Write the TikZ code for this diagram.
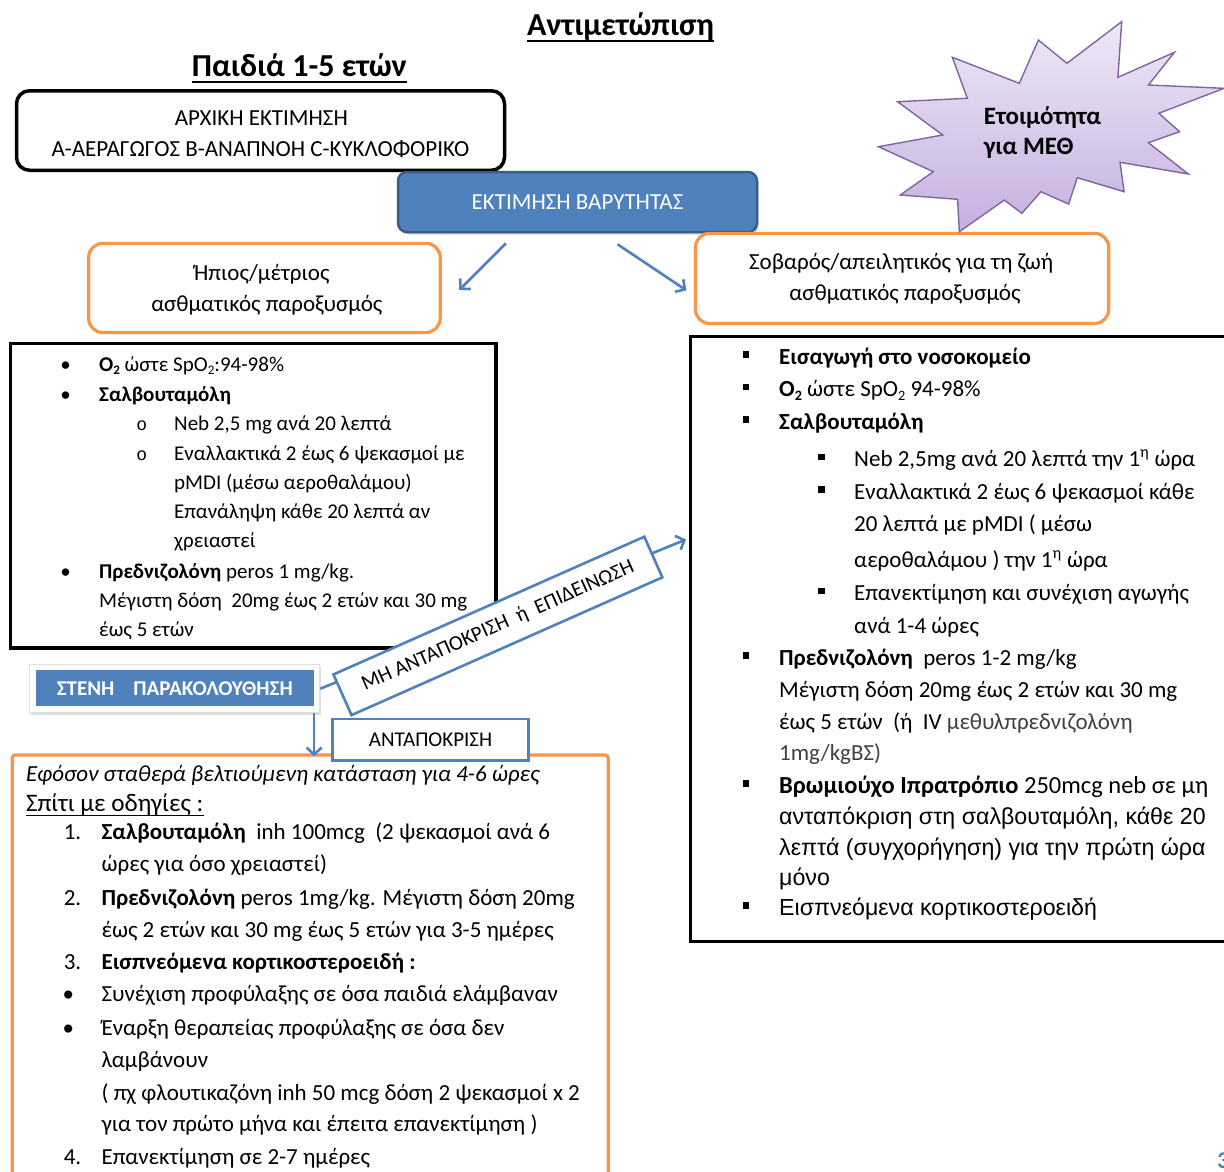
\documentclass[tikz,border=0pt]{standalone}
\usepackage{fontspec}
\usepackage{graphicx}
\setmainfont{Carlito}
\newfontfamily\arialf{Liberation Sans}
\newfontfamily\monof{Liberation Mono}
\usetikzlibrary{arrows.meta,shadows,calc}
\definecolor{obl}{HTML}{4F81BD}
\definecolor{obldk}{HTML}{385D8A}
\definecolor{oor}{HTML}{F79646}
\definecolor{stTop}{HTML}{EEE8F6}
\definecolor{stBot}{HTML}{C5B0E0}
\definecolor{stLine}{HTML}{8064A2}
\definecolor{pgnum}{HTML}{4A84A8}
\newcommand\subtwo{\raisebox{-0.16em}{\scalebox{0.62}{2}}}
\tikzset{
  ttl/.style={anchor=base, inner sep=0pt, font=\bfseries\fontsize{32}{36}\selectfont},
  ctext/.style={anchor=base, inner sep=0pt, font=\fontsize{23}{27}\selectfont},
  lt/.style={anchor=base west, inner sep=0pt, font=\fontsize{21}{25}\selectfont},
  rt/.style={anchor=base west, inner sep=0pt, font=\fontsize{23}{27}\selectfont},
  rbig/.style={anchor=base west, inner sep=0pt, font=\fontsize{24.5}{28}\selectfont},
  ra/.style={anchor=base west, inner sep=0pt, font=\arialf\fontsize{23.2}{27}\selectfont},
  bt/.style={anchor=base west, inner sep=0pt, font=\fontsize{23}{27}\selectfont},
  ldot/.style={anchor=base, inner sep=0pt, font=\fontsize{21}{25}\selectfont},
  lcirc/.style={anchor=base, inner sep=0pt, font=\monof\fontsize{18}{22}\selectfont},
  rsq/.style={anchor=base, inner sep=0pt},
  blackbox/.style={draw=black, line width=3.5pt, inner sep=0pt, anchor=north west},
  orbox/.style={draw=oor, line width=3.2pt, rounded corners=14pt, inner sep=0pt, fill=white},
  arr/.style={draw=obl, line width=2.6pt, -{Straight Barb[length=7pt,width=15pt]}},
}
\newcommand\sq{\raisebox{6.4pt}{\rule{6.5pt}{6.5pt}}}
\begin{document}
\begin{tikzpicture}[x=1pt,y=-1pt]
\useasboundingbox (0,0) rectangle (1224,1171);
\clip (0,0) rectangle (1224,1171);
\fill[white] (0,0) rectangle (1224,1171);

% titles
\node[ttl] (title) at (620.5,35) {Αντιμετώπιση};
\draw[line width=2.3pt] ([yshift=-5.7pt]title.base west) -- ([yshift=-5.7pt]title.base east);
\node[ttl] (subt) at (299.3,76) {Παιδιά 1-5 ετών};
\draw[line width=2.3pt] ([yshift=-5.7pt]subt.base west) -- ([yshift=-5.7pt]subt.base east);

% initial assessment box
\node[draw=black, line width=3.5pt, rounded corners=13pt, fill=white, minimum width=488pt, minimum height=79.5pt, inner sep=0pt] (init) at (260.5,130.5) {};
\node[ctext] (init1) at (261.3,125) {ΑΡΧΙΚΗ ΕΚΤΙΜΗΣΗ};
\node[ctext] (init2) at (260.5,156.7) {Α-ΑΕΡΑΓΩΓΟΣ Β-ΑΝΑΠΝΟΗ C-ΚΥΚΛΟΦΟΡΙΚΟ};

% severity box
\node[draw=obldk, fill=obl, line width=2.5pt, rounded corners=9pt, minimum width=359pt, minimum height=60pt, inner sep=0pt,
      text=white, font=\fontsize{23}{27}\selectfont,
      drop shadow={shadow xshift=1.5pt, shadow yshift=-2.5pt, opacity=0.35}] (sev) at (577.5,202) {ΕΚΤΙΜΗΣΗ ΒΑΡΥΤΗΤΑΣ};

% orange boxes
\node[orbox, minimum width=351.5pt, minimum height=89.1pt] (mild) at (264.4,287.9) {};
\node[ctext] (mild1) at (261.8,280) {Ήπιος/μέτριος};
\node[ctext] (mild2) at (266.8,311.7) {ασθματικός παροξυσμός};
\node[orbox, minimum width=413.2pt, minimum height=90.1pt] (sevr) at (902.1,278.4) {};
\node[ctext] (sevr1) at (901.2,269.3) {Σοβαρός/απειλητικός για τη ζωή};
\node[ctext] (sevr2) at (905,300) {ασθματικός παροξυσμός};

% arrows from severity box
\draw[arr] ([xshift=-71.5pt,yshift=-10pt]sev.south) -- ([xshift=17.5pt,yshift=-2pt]mild.east);
\draw[arr] ([xshift=40pt,yshift=-11pt]sev.south) -- ([xshift=-7.5pt,yshift=-12pt]sevr.west);

% star
\path[draw=stLine, line width=1.4pt, top color=stTop, bottom color=stBot, line join=miter]
 (1121.7,21.7) -- (1117.9,77.3) -- (1174.4,52.3) -- (1148.4,85) -- (1224.1,88.3) -- (1158.8,113.3)
 -- (1179.6,131.7) -- (1148.4,142.7) -- (1188.3,174) -- (1120,162.3) -- (1124.1,191.7) -- (1077.3,177.7)
 -- (1068.6,204) -- (1040.9,191.7) -- (1021.8,213.3) -- (1004.4,200) -- (959.3,231.7) -- (957.6,199.3)
 -- (900.3,195) -- (933.3,171.7) -- (878.5,146.7) -- (942.7,135) -- (897.6,101.7) -- (967.3,98.3)
 -- (952.4,57.3) -- (1019.3,83.3) -- (1038.4,40) -- (1066.9,63.3) -- cycle;
\node[anchor=base west, inner sep=0pt, font=\bfseries\fontsize{25}{29}\selectfont] (star1) at (983.6,124) {Ετοιμότητα};
\node[anchor=base west, inner sep=0pt, font=\bfseries\fontsize{25}{29}\selectfont] (star2) at (983.6,154) {για ΜΕΘ};

% left black box
\node[blackbox, minimum width=485.5pt, minimum height=304.5pt] (lbox) at (8.75,341.75) {};
\node[ldot] (lb1) at (65.7,371) {•};
\node[lt] (l1) at (99,371) {\textbf{O\subtwo} ώστε SpO\subtwo:94-98\%};
\node[ldot] (lb2) at (65.7,401) {•};
\node[lt] (l2) at (99,401) {\textbf{Σαλβουταμόλη}};
\node[lcirc] (lc1) at (141.7,430.7) {o};
\node[lt] (l3) at (174,430.7) {Neb 2,5 mg ανά 20 λεπτά};
\node[lcirc] (lc2) at (141.7,460) {o};
\node[lt] (l4) at (174,460) {Εναλλακτικά 2 έως 6 ψεκασμοί με};
\node[lt] (l5) at (174,489) {pMDI (μέσω αεροθαλάμου)};
\node[lt] (l6) at (174,518) {Επανάληψη κάθε 20 λεπτά αν};
\node[lt] (l7) at (174,547) {χρειαστεί};
\node[ldot] (lb3) at (65.7,578) {•};
\node[lt] (l8) at (99,578) {\textbf{Πρεδνιζολόνη} peros 1 mg/kg.};
\node[lt] (l9) at (99,607.7) {Μέγιστη δόση\ \ 20mg έως 2 ετών και 30 mg};
\node[lt] (l10) at (99,636.7) {έως 5 ετών};

% right black box
\node[blackbox, minimum width=560pt, minimum height=605pt] (rbox) at (688.75,334.75) {};
\node[rsq] (rs1) at (746,364.3) {\sq};
\node[rt] (r1) at (779,364.3) {\textbf{Εισαγωγή στο νοσοκομείο}};
\node[rsq] (rs2) at (746,396.7) {\sq};
\node[rt] (r2) at (779,396.7) {\textbf{O\subtwo} ώστε SpO\subtwo{} 94-98\%};
\node[rsq] (rs3) at (746,429.3) {\sq};
\node[rt] (r3) at (779,429.3) {\textbf{Σαλβουταμόλη}};
\node[rsq] (rs4) at (821.6,466.7) {\sq};
\node[rt] (r4) at (854,466.7) {Neb 2,5mg ανά 20 λεπτά την 1\textsuperscript{η} ώρα};
\node[rsq] (rs5) at (821.6,499) {\sq};
\node[rt] (r5) at (854,499) {Εναλλακτικά 2 έως 6 ψεκασμοί κάθε};
\node[rt] (r6) at (854,531.7) {20 λεπτά με pMDI ( μέσω};
\node[rt] (r7) at (854,567.3) {αεροθαλάμου ) την 1\textsuperscript{η} ώρα};
\node[rsq] (rs6) at (821.6,600.7) {\sq};
\node[rt] (r8) at (854,600.7) {Επανεκτίμηση και συνέχιση αγωγής};
\node[rt] (r9) at (854,633.3) {ανά 1-4 ώρες};
\node[rsq] (rs7) at (746,665) {\sq};
\node[rt] (r10) at (779,665) {\textbf{Πρεδνιζολόνη}\ \ peros 1-2 mg/kg};
\node[rt] (r11) at (779,697.3) {Μέγιστη δόση 20mg έως 2 ετών και 30 mg};
\node[rt] (r12) at (779,729.3) {έως 5 ετών\ \ (ή\ \ IV {\color{black!75}μεθυλπρεδνιζολόνη}};
\node[rt, text=black!75] (r13) at (779,760) {1mg/kgΒΣ)};
\node[rsq] (rs8) at (746,793.3) {\sq};
\node[rbig] (r14) at (779,793.3) {\textbf{Βρωμιούχο Ιπρατρόπιο} 250mcg neb σε μη};
\node[ra] (r15) at (779,824) {ανταπόκριση στη σαλβουταμόλη, κάθε 20};
\node[ra] (r16) at (779,855) {λεπτά (συγχορήγηση) για την πρώτη ώρα};
\node[ra] (r17) at (779,885) {μόνο};
\node[rsq] (rs9) at (746,915) {\sq};
\node[ra] (r18) at (779,915) {Εισπνεόμενα κορτικοστεροειδή};

% bottom orange box
\node[draw=oor, line width=3.2pt, rounded corners=3pt, inner sep=0pt, anchor=north west, minimum width=596pt, minimum height=460pt] (home) at (10.6,753.3) {};
\node[bt] (b1) at (25.8,781.7) {\itshape Εφόσον σταθερά βελτιούμενη κατάσταση για 4-6 ώρες};
\node[bt, font=\fontsize{25.2}{29}\selectfont] (b2) at (25.8,811) {Σπίτι με οδηγίες :};
\draw[line width=1.2pt] ([yshift=-4.5pt]b2.base west) -- ([yshift=-4.5pt]b2.base east);
\node[bt] (n1) at (63.6,839.3) {1.};
\node[bt] (b3) at (101.4,839.3) {\textbf{Σαλβουταμόλη}\ \ inh 100mcg\ \ (2 ψεκασμοί ανά 6};
\node[bt] (b4) at (101.4,871.7) {ώρες για όσο χρειαστεί)};
\node[bt] (n2) at (63.6,905) {2.};
\node[bt] (b5) at (101.4,905) {\textbf{Πρεδνιζολόνη} peros 1mg/kg. Μέγιστη δόση 20mg};
\node[bt] (b6) at (101.4,937.3) {έως 2 ετών και 30 mg έως 5 ετών για 3-5 ημέρες};
\node[bt] (n3) at (63.6,969.3) {3.};
\node[bt] (b7) at (101.4,969.3) {\textbf{Εισπνεόμενα κορτικοστεροειδή :}};
\node[ldot, font=\fontsize{23}{27}\selectfont] (bd1) at (68.4,1001.7) {•};
\node[bt] (b8) at (101.4,1001.7) {Συνέχιση προφύλαξης σε όσα παιδιά ελάμβαναν};
\node[ldot, font=\fontsize{23}{27}\selectfont] (bd2) at (68.4,1035) {•};
\node[bt] (b9) at (101.4,1035) {Έναρξη θεραπείας προφύλαξης σε όσα δεν};
\node[bt] (b10) at (101.4,1067.7) {λαμβάνουν};
\node[bt] (b11) at (101.4,1100) {( πχ φλουτικαζόνη inh 50 mcg δόση 2 ψεκασμοί x 2};
\node[bt] (b12) at (101.4,1131.7) {για τον πρώτο μήνα και έπειτα επανεκτίμηση )};
\node[bt] (n4) at (63.6,1164) {4.};
\node[bt] (b13) at (101.4,1164) {Επανεκτίμηση σε 2-7 ημέρες};

% close monitoring box
\node[fill=white, draw=black!12, line width=1pt, minimum width=290pt, minimum height=48pt, inner sep=0pt,
      drop shadow={shadow xshift=1pt, shadow yshift=-2pt, opacity=0.25}] (stenhbg) at (174.8,688.7) {};
\node[fill=obl, minimum width=278pt, minimum height=36pt, inner sep=0pt,
      text=white, font=\bfseries\fontsize{21}{25}\selectfont] (stenh) at (174.8,688.4) {ΣΤΕΝΗ\ \ \ \ ΠΑΡΑΚΟΛΟΥΘΗΣΗ};

% no response connector
\coordinate (tgt) at (686,539.5);
\draw[arr] (stenhbg.east) -- (tgt);
\node[draw=obl, line width=2.6pt, fill=white, rotate=23.9, minimum width=340pt, minimum height=44.5pt, inner sep=0pt,
      font=\fontsize{21}{25}\selectfont] (noresp) at (497.9,625.9) {ΜΗ ΑΝΤΑΠΟΚΡΙΣΗ\ \ ή\ \ ΕΠΙΔΕΙΝΩΣΗ};

% response connector
\draw[arr] ([xshift=-6.2pt]stenhbg.south east) -- ([xshift=-6.2pt,yshift=-3pt]stenhbg.south east |- home.north);
\node[draw=obl, line width=2.6pt, fill=white, minimum width=196pt, minimum height=41.5pt, inner sep=0pt,
      font=\fontsize{21}{25}\selectfont] (resp) at (430.5,739.7) {ΑΝΤΑΠΟΚΡΙΣΗ};

% page number
\node[anchor=base west, inner sep=0pt, text=pgnum, font=\bfseries\fontsize{24}{28}\selectfont] (pg) at (1217,1168) {3};
\end{tikzpicture}
\end{document}
